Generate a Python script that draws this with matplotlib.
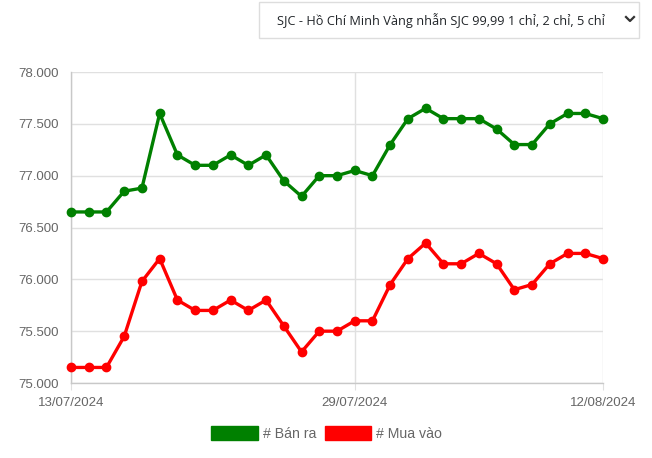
import matplotlib
matplotlib.use("Agg")
import matplotlib.pyplot as plt
from matplotlib.patches import Patch, Rectangle
from matplotlib.lines import Line2D
from matplotlib.ticker import FuncFormatter

dates = ["13/07/2024", "14/07/2024", "15/07/2024", "16/07/2024", "17/07/2024", "18/07/2024",
         "19/07/2024", "20/07/2024", "21/07/2024", "22/07/2024", "23/07/2024", "24/07/2024",
         "25/07/2024", "26/07/2024", "27/07/2024", "28/07/2024", "29/07/2024", "30/07/2024",
         "31/07/2024", "01/08/2024", "02/08/2024", "03/08/2024", "04/08/2024", "05/08/2024",
         "06/08/2024", "07/08/2024", "08/08/2024", "09/08/2024", "10/08/2024", "11/08/2024",
         "12/08/2024"]
ban_ra = [76.65, 76.65, 76.65, 76.85, 76.88, 77.60, 77.20, 77.10, 77.10, 77.20, 77.10, 77.20,
          76.95, 76.80, 77.00, 77.00, 77.05, 77.00, 77.30, 77.55, 77.65, 77.55, 77.55, 77.55,
          77.45, 77.30, 77.30, 77.50, 77.60, 77.60, 77.55]
mua_vao = [75.15, 75.15, 75.15, 75.45, 75.98, 76.20, 75.80, 75.70, 75.70, 75.80, 75.70, 75.80,
           75.55, 75.30, 75.50, 75.50, 75.60, 75.60, 75.95, 76.20, 76.35, 76.15, 76.15, 76.25,
           76.15, 75.90, 75.95, 76.15, 76.25, 76.25, 76.20]
series_labels = ["# Bán ra", "# Mua vào"]
tick_dates = ["13/07/2024", "29/07/2024", "12/08/2024"]
y_ticks = [75.0, 75.5, 76.0, 76.5, 77.0, 77.5, 78.0]
dropdown_text = "SJC - Hồ Chí Minh Vàng nhẫn SJC 99,99 1 chỉ, 2 chỉ, 5 chỉ"

GREEN = "#008000"
RED = "#ff0000"
W, H = 652, 458

plt.rcParams['font.family'] = ['Liberation Sans', 'DejaVu Sans']
fig = plt.figure(figsize=(W / 100, H / 100), dpi=100)
ax = fig.add_axes([71 / W, (H - 383) / H, 532 / W, 311 / H])

x = list(range(len(dates)))
ax.plot(x, ban_ra, color=GREEN, lw=2.4, marker='o', ms=6, zorder=3, clip_on=False)
ax.plot(x, mua_vao, color=RED, lw=2.4, marker='o', ms=6, zorder=3, clip_on=False)

ax.set_xlim(0, len(dates) - 1)
ax.set_ylim(75.0, 78.0)
ax.set_yticks(y_ticks)
ax.yaxis.set_major_formatter(FuncFormatter(lambda v, p: f"{v:.3f}"))
ax.set_xticks([dates.index(d) for d in tick_dates])
ax.set_xticklabels(tick_dates)

ax.grid(True, color="#e0e0e0", lw=1, zorder=0)
for s in ["top", "right"]:
    ax.spines[s].set_visible(False)
for s in ["left", "bottom"]:
    ax.spines[s].set_color("#c8c8c8")
    ax.spines[s].set_linewidth(1)
ax.tick_params(axis='y', length=0, pad=9, labelsize=9.5, labelcolor="#666666")
ax.tick_params(axis='x', length=5, color="#e0e0e0", pad=5, labelsize=9.5, labelcolor="#666666")

handles = [Patch(facecolor=GREEN, edgecolor=GREEN, label=series_labels[0]),
           Patch(facecolor=RED, edgecolor=RED, label=series_labels[1])]
fig.legend(handles=handles, loc='center', bbox_to_anchor=(326.5 / W, 1 - 433.5 / H),
           ncol=2, frameon=False, fontsize=10.2, labelcolor="#666666",
           handlelength=3.3, handleheight=1.1, handletextpad=0.35, columnspacing=0.6)

# dropdown box
box = Rectangle((259 / W, 1 - 38 / H), (639 - 259) / W, 36 / H, transform=fig.transFigure,
                facecolor="white", edgecolor="#dddddd", lw=1)
fig.add_artist(box)
fig.text(277 / W, 1 - 20 / H, dropdown_text, ha='left', va='center', fontsize=9.15,
         color="#212529", family=['Open Sans', 'DejaVu Sans'])
fig.add_artist(Line2D([626 / W, 630 / W, 634 / W], [1 - 17 / H, 1 - 21 / H, 1 - 17 / H],
                      transform=fig.transFigure, color="#333333", lw=1.6))

fig.savefig("out.png", dpi=100)
